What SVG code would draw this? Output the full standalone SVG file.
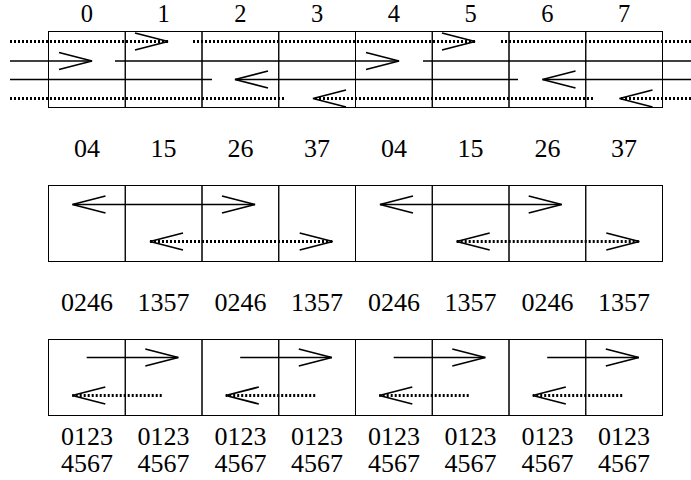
<svg xmlns="http://www.w3.org/2000/svg" width="691" height="480" viewBox="0 0 691 480">
<style>
.cell{fill:none;stroke:#000;stroke-width:1}
text{font-family:'Liberation Serif','Times New Roman','DejaVu Serif',serif;font-size:26px;fill:#000;text-anchor:middle}
text.top{font-size:24.5px}
.sol{fill:none;stroke:#000;stroke-width:1.5}
.dot{fill:none;stroke:#000;stroke-width:3;stroke-dasharray:2 2}
.ar{marker-end:url(#head)}
.ar2{marker-start:url(#head);marker-end:url(#head)}
</style>
<defs>
<marker id="head" markerUnits="userSpaceOnUse" markerWidth="40" markerHeight="22" refX="33" refY="9" orient="auto-start-reverse" overflow="visible">
<path d="M0,0.5 L33,9 L0,17.5" fill="none" stroke="#000" stroke-width="1.8"/>
</marker>
</defs>
<rect width="691" height="480" fill="#fff"/>
<!-- top row -->
<g id="t0"><rect class="cell" x="48.5" y="31.5" width="76.75" height="76"/><text class="top" x="86.9" y="22">0</text></g>
<g id="t1"><rect class="cell" x="125.25" y="31.5" width="76.75" height="76"/><text class="top" x="163.6" y="22">1</text></g>
<g id="t2"><rect class="cell" x="202" y="31.5" width="76.75" height="76"/><text class="top" x="240.4" y="22">2</text></g>
<g id="t3"><rect class="cell" x="278.75" y="31.5" width="76.75" height="76"/><text class="top" x="317.1" y="22">3</text></g>
<g id="t4"><rect class="cell" x="355.5" y="31.5" width="76.75" height="76"/><text class="top" x="393.9" y="22">4</text></g>
<g id="t5"><rect class="cell" x="432.25" y="31.5" width="76.75" height="76"/><text class="top" x="470.6" y="22">5</text></g>
<g id="t6"><rect class="cell" x="509" y="31.5" width="76.75" height="76"/><text class="top" x="547.4" y="22">6</text></g>
<g id="t7"><rect class="cell" x="585.75" y="31.5" width="76.75" height="76"/><text class="top" x="624.1" y="22">7</text></g>
<!-- middle row -->
<g id="m0"><rect class="cell" x="48.5" y="185.5" width="76.75" height="76"/><text x="86.9" y="156.5">04</text><text x="86.9" y="310.5">0246</text></g>
<g id="m1"><rect class="cell" x="125.25" y="185.5" width="76.75" height="76"/><text x="163.6" y="156.5">15</text><text x="163.6" y="310.5">1357</text></g>
<g id="m2"><rect class="cell" x="202" y="185.5" width="76.75" height="76"/><text x="240.4" y="156.5">26</text><text x="240.4" y="310.5">0246</text></g>
<g id="m3"><rect class="cell" x="278.75" y="185.5" width="76.75" height="76"/><text x="317.1" y="156.5">37</text><text x="317.1" y="310.5">1357</text></g>
<g id="m4"><rect class="cell" x="355.5" y="185.5" width="76.75" height="76"/><text x="393.9" y="156.5">04</text><text x="393.9" y="310.5">0246</text></g>
<g id="m5"><rect class="cell" x="432.25" y="185.5" width="76.75" height="76"/><text x="470.6" y="156.5">15</text><text x="470.6" y="310.5">1357</text></g>
<g id="m6"><rect class="cell" x="509" y="185.5" width="76.75" height="76"/><text x="547.4" y="156.5">26</text><text x="547.4" y="310.5">0246</text></g>
<g id="m7"><rect class="cell" x="585.75" y="185.5" width="76.75" height="76"/><text x="624.1" y="156.5">37</text><text x="624.1" y="310.5">1357</text></g>
<!-- bottom row -->
<g id="b0"><rect class="cell" x="48.5" y="339.5" width="76.75" height="76"/><text x="86.9" y="445">0123</text><text x="86.9" y="471.7">4567</text></g>
<g id="b1"><rect class="cell" x="125.25" y="339.5" width="76.75" height="76"/><text x="163.6" y="445">0123</text><text x="163.6" y="471.7">4567</text></g>
<g id="b2"><rect class="cell" x="202" y="339.5" width="76.75" height="76"/><text x="240.4" y="445">0123</text><text x="240.4" y="471.7">4567</text></g>
<g id="b3"><rect class="cell" x="278.75" y="339.5" width="76.75" height="76"/><text x="317.1" y="445">0123</text><text x="317.1" y="471.7">4567</text></g>
<g id="b4"><rect class="cell" x="355.5" y="339.5" width="76.75" height="76"/><text x="393.9" y="445">0123</text><text x="393.9" y="471.7">4567</text></g>
<g id="b5"><rect class="cell" x="432.25" y="339.5" width="76.75" height="76"/><text x="470.6" y="445">0123</text><text x="470.6" y="471.7">4567</text></g>
<g id="b6"><rect class="cell" x="509" y="339.5" width="76.75" height="76"/><text x="547.4" y="445">0123</text><text x="547.4" y="471.7">4567</text></g>
<g id="b7"><rect class="cell" x="585.75" y="339.5" width="76.75" height="76"/><text x="624.1" y="445">0123</text><text x="624.1" y="471.7">4567</text></g>
<g id="connectors">
<!-- top -->
<path class="dot ar" d="M10,41.5 H168"/>
<path class="dot ar" d="M193,41.5 H475"/>
<path class="dot" d="M501,41.5 H691"/>
<path class="sol ar" d="M10,61 H92"/>
<path class="sol ar" d="M115,61 H399"/>
<path class="sol" d="M423,61 H691"/>
<path class="sol" d="M10,79.5 H212"/>
<path class="sol ar" d="M518,79.5 H235"/>
<path class="sol ar" d="M691,79.5 H542.5"/>
<path class="dot" d="M10,98.5 H285"/>
<path class="dot ar" d="M593,98.5 H313"/>
<path class="dot ar" d="M691,98.5 H619.5"/>
<!-- middle -->
<path class="sol ar2" d="M72.5,204.5 H255"/>
<path class="sol ar2" d="M380,204.5 H561.7"/>
<path class="dot ar2" d="M150,241.5 H332.7"/>
<path class="dot ar2" d="M456.7,241.5 H639.3"/>
<!-- bottom -->
<path class="sol ar" d="M86.7,357.5 H178.3"/>
<path class="sol ar" d="M240.2,357.5 H331.8"/>
<path class="sol ar" d="M393.7,357.5 H485.3"/>
<path class="sol ar" d="M547.2,357.5 H638.8"/>
<path class="dot ar" d="M161.7,395.5 H72.3"/>
<path class="dot ar" d="M315.2,395.5 H225.8"/>
<path class="dot ar" d="M468.7,395.5 H379.3"/>
<path class="dot ar" d="M622.2,395.5 H532.8"/>
</g>
</svg>
